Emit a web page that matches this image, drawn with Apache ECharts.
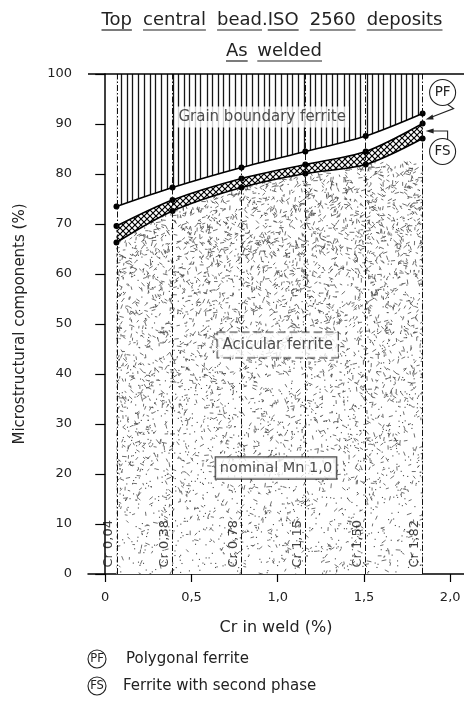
<!DOCTYPE html>
<html><head><meta charset="utf-8">
<script src="https://cdn.jsdelivr.net/npm/echarts@6/dist/echarts.min.js"></script>
<style>html,body{margin:0;padding:0;background:#fff}#c{width:464px;height:707px}</style>
</head><body><div id="c"></div>
<script>
// ---- data ----
const crValues = [0.065, 0.39, 0.79, 1.16, 1.51, 1.84];
const crLabels = ['Cr 0,04', 'Cr 0,38', 'Cr 0,78', 'Cr 1,15', 'Cr 1,50', 'Cr 1,82'];
const gbfBoundary = [73.5, 77.3, 81.3, 84.5, 87.6, 92.1];   // top of polygonal ferrite band
const pfBoundary  = [69.6, 74.8, 79.1, 81.9, 84.5, 90.1];   // top of ferrite with second phase
const afBoundary  = [66.3, 72.6, 77.3, 80.1, 81.9, 87.1];   // top of acicular ferrite
const xTicks = [0, 0.5, 1.0, 1.5, 2.0];
const xTickLabels = ['0', '0,5', '1,0', '1,5', '2,0'];

const FONT = "'DejaVu Sans', 'Noto Sans', sans-serif";
const W = 464, H = 707;
function mk(w, h) { const c = document.createElement('canvas'); c.width = w; c.height = h; return c; }
// seeded generator used only for the texture of the acicular-ferrite fill
let _s = 20240611;
function rnd() { _s |= 0; _s = _s + 0x6D2B79F5 | 0; let t = Math.imul(_s ^ _s >>> 15, 1 | _s); t = t + Math.imul(t ^ t >>> 7, 61 | t) ^ t; return ((t ^ t >>> 14) >>> 0) / 4294967296; }

// vertical hatching texture
const hatch = mk(W, H);
(function () {
  const g = hatch.getContext('2d'); g.fillStyle = '#fff'; g.fillRect(0, 0, W, H);
  g.strokeStyle = '#151515'; g.lineWidth = 1.3;
  const gaps = [5.5, 6, 5, 6.5, 5.5, 6, 5, 6.2];
  let x = 1, i = 0;
  while (x < W) { const xx = Math.round(x) + 0.5; g.beginPath(); g.moveTo(xx, 0); g.lineTo(xx, H); g.stroke(); x += gaps[i++ % gaps.length]; }
})();
// cross hatch texture
const cross = mk(6, 6);
(function () {
  const g = cross.getContext('2d'); g.fillStyle = '#fff'; g.fillRect(0, 0, 6, 6);
  g.strokeStyle = '#000'; g.lineWidth = 1.2;
  g.beginPath(); g.moveTo(0, 0); g.lineTo(6, 6); g.moveTo(6, 0); g.lineTo(0, 6); g.stroke();
})();
// stipple texture
const stip = mk(W, H);
(function () {
  const g = stip.getContext('2d'); g.fillStyle = '#fff'; g.fillRect(0, 0, W, H);
  g.strokeStyle = '#4a4a4a'; g.fillStyle = '#4a4a4a'; g.lineWidth = 0.8; g.lineCap = 'round';
  for (let k = 0; k < 26000; k++) {
    const x = 95 + rnd() * 345, y = 160 + rnd() * 420;
    const t = Math.max(0, Math.min(1, (y - 190) / 384)); // 0 top, 1 bottom
    const pKeep = 0.34 - 0.19 * t;
    if (rnd() > pKeep) continue;
    if (rnd() < 0.9 - 0.6 * t) {
      const a = rnd() * Math.PI, L = 1.5 + rnd() * 2.6;
      g.beginPath(); g.moveTo(x, y); g.lineTo(x + L * Math.cos(a), y + L * Math.sin(a)); g.stroke();
    } else {
      g.fillRect(x, y, 1.1, 1.1);
    }
  }
})();

const pts = arr => crValues.map((x, i) => [x, arr[i]]);
const lineCommon = {
  type: 'line', smooth: 0.3, symbol: 'circle', symbolSize: 6, silent: true,
  itemStyle: { color: '#000' }, lineStyle: { color: '#000', width: 1.6 }
};

const chart = echarts.init(document.getElementById('c'), null, { renderer: 'canvas' });
const option = {
  backgroundColor: '#fff',
  animation: false,
  textStyle: { fontFamily: FONT },
  grid: { left: 88, right: 0, top: 74, bottom: 133 },
  xAxis: {
    type: 'value', min: -0.1, max: 2.08,
    name: 'Cr in weld (%)', nameLocation: 'middle', nameGap: 46,
    nameTextStyle: { fontFamily: FONT, fontSize: 16, color: '#222' },
    axisLine: { show: true, onZero: false, lineStyle: { color: '#000', width: 1.5 } },
    axisTick: { show: true, customValues: xTicks, length: 8, lineStyle: { color: '#000', width: 1.2 } },
    axisLabel: { customValues: xTicks, margin: 17, fontFamily: FONT, fontSize: 13, color: '#222',
      formatter: v => { const i = xTicks.findIndex(t => Math.abs(t - v) < 1e-6); return i >= 0 ? xTickLabels[i] : ''; } },
    splitLine: { show: false }
  },
  yAxis: {
    type: 'value', min: 0, max: 100, interval: 10,
    name: 'Microstructural components (%)', nameLocation: 'middle', nameGap: 60,
    nameTextStyle: { fontFamily: FONT, fontSize: 15, color: '#222' },
    axisLine: { show: true, lineStyle: { color: '#000', width: 1.5 } },
    axisTick: { show: true, length: 10, lineStyle: { color: '#000', width: 1.2 } },
    axisLabel: { margin: 16, fontFamily: FONT, fontSize: 13, color: '#222' },
    splitLine: { show: false }
  },
  series: [
    Object.assign({}, lineCommon, { name: 'gbf', data: pts(gbfBoundary), z: 2,
      areaStyle: { origin: 'end', opacity: 1, color: { image: hatch, repeat: 'no-repeat' } } }),
    Object.assign({}, lineCommon, { name: 'fs', data: pts(pfBoundary), z: 2,
      areaStyle: { origin: 'start', opacity: 1, color: { image: cross, repeat: 'repeat' } } }),
    Object.assign({}, lineCommon, { name: 'af', data: pts(afBoundary), z: 3,
      areaStyle: { origin: 'start', opacity: 1, color: { image: stip, repeat: 'no-repeat' } } }),
    {
      type: 'scatter', name: 'crlabels', z: 5, silent: true, symbolSize: 0,
      data: crValues.map(x => [x, 1.3]),
      itemStyle: { color: 'transparent' },
      label: { show: true, position: 'inside', rotate: 90, align: 'left', verticalAlign: 'middle', offset: [0, -8],
        fontFamily: FONT, fontSize: 13, color: '#111', formatter: p => crLabels[p.dataIndex] },
      markLine: {
        silent: true, symbol: 'none', label: { show: false },
        lineStyle: { color: '#111', width: 1, type: [6, 2, 1.5, 2] },
        data: crValues.map(x => ({ xAxis: x })).concat([{ yAxis: 100, lineStyle: { type: 'solid', width: 1.5, color: '#000' } }])
      }
    },
    {
      type: 'scatter', name: 'notes', z: 6, silent: true, symbolSize: 0,
      itemStyle: { color: 'transparent' },
      label: { show: true, position: 'inside', fontFamily: FONT, fontSize: 15, color: '#222' },
      data: [
        { value: [0.91, 91.4], label: { formatter: 'Grain boundary ferrite', backgroundColor: '#fff', padding: [3, 3] } },
        { value: [1.0, 45.8], label: { formatter: 'Acicular ferrite', backgroundColor: '#fff', borderColor: '#222', borderWidth: 1, borderType: 'dashed', padding: [5, 5] } },
        { value: [0.99, 21.2], label: { formatter: 'nominal Mn 1,0', fontSize: 14.5, backgroundColor: '#fff', borderColor: '#222', borderWidth: 1.2, padding: [3, 4] } }
      ]
    }
  ]
};
chart.setOption(option);

// ---- titles, circles, legend ----
const mctx = document.createElement('canvas').getContext('2d');
function wordsLine(words, font, cx, cy, totalW, ul) {
  mctx.font = font;
  const ws = words.map(w => mctx.measureText(w.t).width);
  const sum = ws.reduce((a, b) => a + b, 0);
  const nG = words.filter((w, i) => i > 0 && !w.tight).length;
  const gap = nG ? (totalW - sum) / nG : 0;
  let x = cx - totalW / 2; const out = [];
  words.forEach((w, i) => {
    if (i > 0 && !w.tight) x += gap;
    out.push({ type: 'text', x: x, y: cy, style: { text: w.t, font: font, fill: '#222', textAlign: 'left', textVerticalAlign: 'middle' } });
    if (w.u) out.push({ type: 'line', shape: { x1: x, y1: cy + ul, x2: x + ws[i], y2: cy + ul }, style: { stroke: '#222', lineWidth: 1.2 } });
    x += ws[i];
  });
  return out;
}
function circ(cx, cy, r, t, fs) {
  return [
    { type: 'circle', shape: { cx: cx, cy: cy, r: r }, style: { fill: '#fff', stroke: '#222', lineWidth: 1.1 }, z: 10 },
    { type: 'text', x: cx, y: cy, z: 11, style: { text: t, font: fs + 'px ' + FONT, fill: '#222', textAlign: 'center', textVerticalAlign: 'middle' } }
  ];
}
const tFont = '18px ' + FONT;
let els = [];
els = els.concat(wordsLine([
  { t: 'Top', u: 1 }, { t: 'central', u: 1 }, { t: 'bead', u: 1 }, { t: '.', tight: 1 }, { t: 'ISO', u: 1, tight: 1 },
  { t: '2560', u: 1 }, { t: 'deposits', u: 1 }], tFont, 272, 20, 341, 10));
els = els.concat(wordsLine([{ t: 'As', u: 1 }, { t: 'welded', u: 1 }], tFont, 274, 51, 96, 10));

const p1 = chart.convertToPixel({ gridIndex: 0 }, [crValues[5], gbfBoundary[5]]);
const p2 = chart.convertToPixel({ gridIndex: 0 }, [crValues[5], pfBoundary[5]]);
els = els.concat(circ(p1[0] + 20, p1[1] - 21, 13, 'PF', 13.5));
els = els.concat(circ(p1[0] + 20, p2[1] + 28, 13, 'FS', 13.5));
// PF leader
els.push({ type: 'polyline', z: 10, shape: { points: [[p1[0] + 25, p1[1] - 9], [p1[0] + 31, p1[1] - 5], [p1[0] + 8, p1[1] + 4]] }, style: { stroke: '#222', lineWidth: 1.1, fill: null } });
els.push({ type: 'polygon', z: 10, shape: { points: [[p1[0] + 3, p1[1] + 6], [p1[0] + 10, p1[1] + 1], [p1[0] + 11, p1[1] + 6]] }, style: { fill: '#222' } });
// FS leader
const fy = p2[1] + 7.5;
els.push({ type: 'polyline', z: 10, shape: { points: [[p2[0] + 9, fy], [p2[0] + 25, fy], [p2[0] + 25, p2[1] + 16]] }, style: { stroke: '#222', lineWidth: 1.1, fill: null } });
els.push({ type: 'polygon', z: 10, shape: { points: [[p2[0] + 3, fy], [p2[0] + 11, fy - 2.5], [p2[0] + 11, fy + 2.5]] }, style: { fill: '#222' } });

// bottom legend
els = els.concat(circ(97, 659, 9, 'PF', 11.5));
els.push({ type: 'text', x: 126, y: 659, style: { text: 'Polygonal ferrite', font: '15px ' + FONT, fill: '#222', textVerticalAlign: 'middle' } });
els = els.concat(circ(97, 686, 9, 'FS', 11.5));
els.push({ type: 'text', x: 123, y: 686, style: { text: 'Ferrite with second phase', font: '15px ' + FONT, fill: '#222', textVerticalAlign: 'middle' } });

chart.setOption({ graphic: { elements: els } });
</script>
</body></html>
